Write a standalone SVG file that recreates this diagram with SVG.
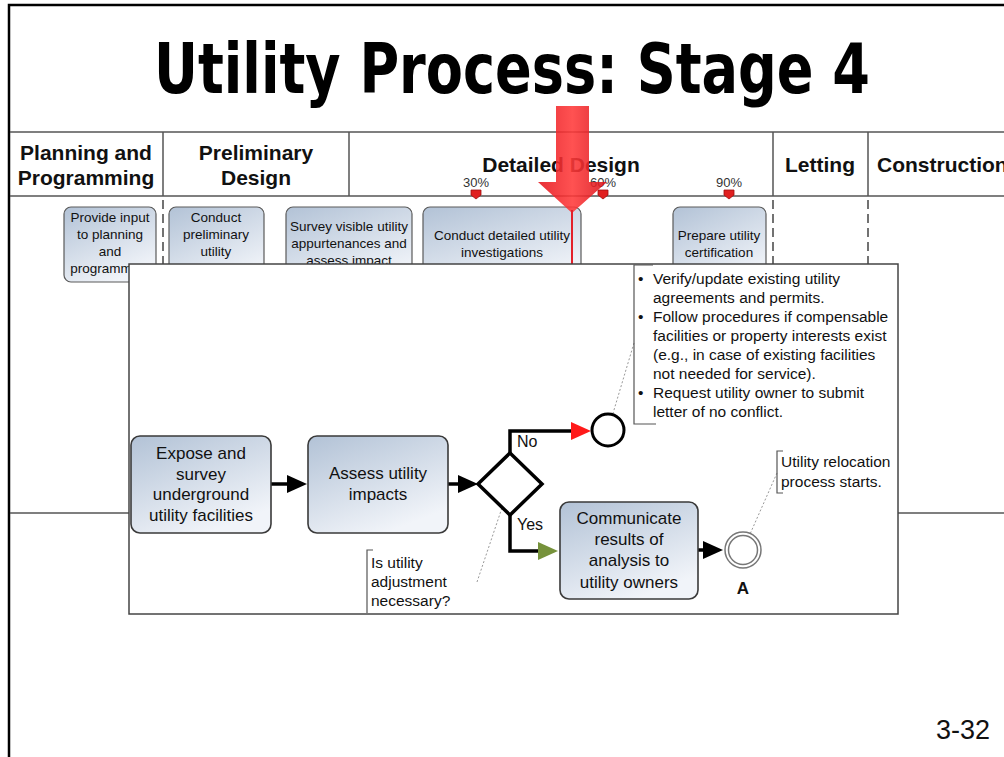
<svg xmlns="http://www.w3.org/2000/svg" width="1004" height="757" viewBox="0 0 1004 757">
  <defs>
    <linearGradient id="taskFill" x1="0" y1="0" x2="0.55" y2="1">
      <stop offset="0" stop-color="#b2c2d6"/>
      <stop offset="1" stop-color="#f1f4f9"/>
    </linearGradient>
    <linearGradient id="arrowFill" x1="0" y1="0" x2="1" y2="0">
      <stop offset="0" stop-color="#e4141c"/>
      <stop offset="0.5" stop-color="#ff3a3a"/>
      <stop offset="1" stop-color="#d81018"/>
    </linearGradient>
    <marker id="headBlack" viewBox="0 0 20 18" refX="8" refY="9" markerWidth="20" markerHeight="18" markerUnits="userSpaceOnUse" orient="auto">
      <path d="M0,0 L20,9 L0,18 z" fill="#000"/>
    </marker>
    <marker id="headRed" viewBox="0 0 20 18" refX="8" refY="9" markerWidth="20" markerHeight="18" markerUnits="userSpaceOnUse" orient="auto">
      <path d="M0,0 L20,9 L0,18 z" fill="#ff1a1a"/>
    </marker>
    <marker id="headGreen" viewBox="0 0 20 18" refX="8" refY="9" markerWidth="20" markerHeight="18" markerUnits="userSpaceOnUse" orient="auto">
      <path d="M0,0 L20,9 L0,18 z" fill="#76923b"/>
    </marker>
    <path id="pin" d="M-5,-4 H5 V1 L0,5 L-5,1 z"/>
  </defs>
  <style>
    text { font-family: "Liberation Sans", Arial, sans-serif; fill: #111; }
    .title { font-family: "DejaVu Sans Condensed", "DejaVu Sans", sans-serif; font-stretch: condensed; font-weight: bold; font-size: 70px; fill: #000; }
    .lane { font-weight: bold; font-size: 21px; fill: #111; text-anchor: middle; }
    .lane-start { font-weight: bold; font-size: 21px; fill: #111; text-anchor: start; }
    .pct { font-size: 13px; fill: #333; text-anchor: middle; }
    .small { font-size: 13.5px; text-anchor: middle; }
    .task { font-size: 17px; text-anchor: middle; }
    .label { font-size: 16px; text-anchor: start; }
    .note { font-size: 15.5px; }
    .grid { stroke: #555; stroke-width: 1.5; fill: none; }
    .dash { stroke: #444; stroke-width: 1.5; stroke-dasharray: 9 5; fill: none; }
    .mini { fill: url(#taskFill); stroke: #5a5a5a; stroke-width: 1.2; }
    .box { fill: url(#taskFill); stroke: #3a3a3a; stroke-width: 1.6; }
    .flow { stroke: #000; stroke-width: 3.5; fill: none; }
    .assoc { stroke: #999; stroke-width: 1; stroke-dasharray: 2 2; fill: none; }
    .bracket { stroke: #555; stroke-width: 1.2; fill: none; }
    .pin { fill: #e02020; stroke: #a01010; stroke-width: 0.8; }
  </style>

  <rect width="1004" height="757" fill="#fff"/>
  <!-- slide frame -->
  <path d="M9,757 V5 H1004" fill="none" stroke="#000" stroke-width="2.5"/>

  <text class="title" x="512" y="93" text-anchor="middle" textLength="716" lengthAdjust="spacingAndGlyphs">Utility Process: Stage 4</text>

  <!-- phase lanes -->
  <g id="lanes">
    <path class="grid" d="M10,132 H1004 M10,196 H1004 M163,132 V196 M349,132 V196 M773,132 V196 M868,132 V196"/>
    <path class="dash" d="M163,200 V264 M773,200 V264 M868,200 V264"/>
    <path class="grid" d="M10,513 H129 M898,513 H1004"/>
    <text class="lane" x="86" y="160">Planning and</text>
    <text class="lane" x="86" y="185">Programming</text>
    <text class="lane" x="256" y="160">Preliminary</text>
    <text class="lane" x="256" y="185">Design</text>
    <text class="lane" x="561" y="172">Detailed Design</text>
    <text class="lane" x="820" y="172">Letting</text>
    <text class="lane-start" x="877" y="172">Construction</text>
    <text class="pct" x="476" y="187">30%</text>
    <text class="pct" x="603" y="187">60%</text>
    <text class="pct" x="729" y="187">90%</text>
    <use href="#pin" class="pin" x="476" y="194"/>
    <use href="#pin" class="pin" x="603" y="194"/>
    <use href="#pin" class="pin" x="729" y="194"/>
  </g>

  <!-- high-level activities -->
  <g id="node-provide-input">
    <rect class="mini" x="64" y="207" width="92" height="75" rx="7"/>
    <text class="small" x="110" y="222">Provide input</text>
    <text class="small" x="110" y="239">to planning</text>
    <text class="small" x="110" y="256">and</text>
    <text class="small" x="110" y="273">programming</text>
  </g>
  <g id="node-preliminary">
    <rect class="mini" x="169" y="207" width="95" height="80" rx="7"/>
    <text class="small" x="216" y="222">Conduct</text>
    <text class="small" x="216" y="239">preliminary</text>
    <text class="small" x="216" y="256">utility</text>
    <text class="small" x="216" y="273">investigations</text>
  </g>
  <g id="node-survey-visible">
    <rect class="mini" x="286" y="207" width="126" height="80" rx="7"/>
    <text class="small" x="349" y="231">Survey visible utility</text>
    <text class="small" x="349" y="248">appurtenances and</text>
    <text class="small" x="349" y="265">assess impact</text>
  </g>
  <g id="node-detailed">
    <rect class="mini" x="423" y="207" width="158" height="80" rx="7"/>
    <text class="small" x="502" y="240">Conduct detailed utility</text>
    <text class="small" x="502" y="257">investigations</text>
  </g>
  <g id="node-certification">
    <rect class="mini" x="673" y="207" width="93" height="80" rx="7"/>
    <text class="small" x="719" y="240">Prepare utility</text>
    <text class="small" x="719" y="257">certification</text>
  </g>

  <!-- stage marker -->
  <g id="stage-pointer">
    <path d="M556,106 H589 V182 H607 L572,213 L538,182 H556 z" fill="url(#arrowFill)" opacity="0.88"/>
    <line x1="572" y1="210" x2="572" y2="264" stroke="#e3202a" stroke-width="2"/>
  </g>

  <!-- stage 4 detail panel -->
  <rect id="detail-panel" x="129" y="264" width="769" height="350" fill="#fff" stroke="#444" stroke-width="1.5"/>

  <g id="connectors">
    <line class="flow" x1="271" y1="484" x2="295" y2="484" marker-end="url(#headBlack)"/>
    <line class="flow" x1="448" y1="484" x2="466" y2="484" marker-end="url(#headBlack)"/>
    <path class="flow" d="M510,453 V431 H579" stroke="#ff1a1a" marker-end="url(#headRed)"/>
    <path class="flow" d="M510,515 V551 H546" stroke="#76923b" marker-end="url(#headGreen)"/>
    <line class="flow" x1="698" y1="550" x2="711" y2="550" marker-end="url(#headBlack)"/>
    <line class="assoc" x1="634" y1="343" x2="608" y2="430"/>
    <line class="assoc" x1="777" y1="473" x2="743" y2="550"/>
    <line class="assoc" x1="477" y1="582" x2="509" y2="487"/>
  </g>

  <g id="node-expose">
    <rect class="box" x="131" y="436" width="140" height="97" rx="9"/>
    <text class="task" x="201" y="459">Expose and</text>
    <text class="task" x="201" y="480">survey</text>
    <text class="task" x="201" y="500">underground</text>
    <text class="task" x="201" y="521">utility facilities</text>
  </g>
  <g id="node-assess">
    <rect class="box" x="308" y="436" width="140" height="97" rx="9"/>
    <text class="task" x="378" y="479">Assess utility</text>
    <text class="task" x="378" y="500">impacts</text>
  </g>
  <g id="node-gateway">
    <path d="M510,453 L542,484 L510,515 L478,484 z" fill="#fff" stroke="#000" stroke-width="3.5" stroke-linejoin="miter"/>
    <text class="label" x="517" y="447">No</text>
    <text class="label" x="517" y="530">Yes</text>
  </g>
  <g id="node-end">
    <circle cx="608" cy="430" r="16" fill="#fff" stroke="#000" stroke-width="3"/>
  </g>
  <g id="node-communicate">
    <rect class="box" x="560" y="502" width="138" height="97" rx="9"/>
    <text class="task" x="629" y="524">Communicate</text>
    <text class="task" x="629" y="545">results of</text>
    <text class="task" x="629" y="566">analysis to</text>
    <text class="task" x="629" y="588">utility owners</text>
  </g>
  <g id="node-link-a">
    <circle cx="743" cy="550" r="18" fill="#fff" stroke="#777" stroke-width="1.5"/>
    <circle cx="743" cy="550" r="14.5" fill="none" stroke="#777" stroke-width="1.5"/>
    <text x="743" y="594" text-anchor="middle" font-weight="bold" font-size="17">A</text>
  </g>

  <g id="note-no-conflict">
    <path class="bracket" d="M653,265 H634 V424 H656"/>
    <text class="note" x="638" y="284">•</text>
    <text class="note" x="653" y="284">Verify/update existing utility</text>
    <text class="note" x="653" y="303">agreements and permits.</text>
    <text class="note" x="638" y="322">•</text>
    <text class="note" x="653" y="322">Follow procedures if compensable</text>
    <text class="note" x="653" y="341">facilities or property interests exist</text>
    <text class="note" x="653" y="360">(e.g., in case of existing facilities</text>
    <text class="note" x="653" y="379">not needed for service).</text>
    <text class="note" x="638" y="398">•</text>
    <text class="note" x="653" y="398">Request utility owner to submit</text>
    <text class="note" x="653" y="417">letter of no conflict.</text>
  </g>
  <g id="note-relocation">
    <path class="bracket" d="M783,451 H777 V493 H783"/>
    <text class="note" x="781" y="467" font-size="15">Utility relocation</text>
    <text class="note" x="781" y="487" font-size="15">process starts.</text>
  </g>
  <g id="note-question">
    <path class="bracket" d="M373,550 H367 V613"/>
    <text class="note" x="371" y="568">Is utility</text>
    <text class="note" x="371" y="587">adjustment</text>
    <text class="note" x="371" y="606">necessary?</text>
  </g>

  <text x="990" y="739" text-anchor="end" font-family="Lato, 'Open Sans', sans-serif" font-size="27" fill="#000">3-32</text>
</svg>
